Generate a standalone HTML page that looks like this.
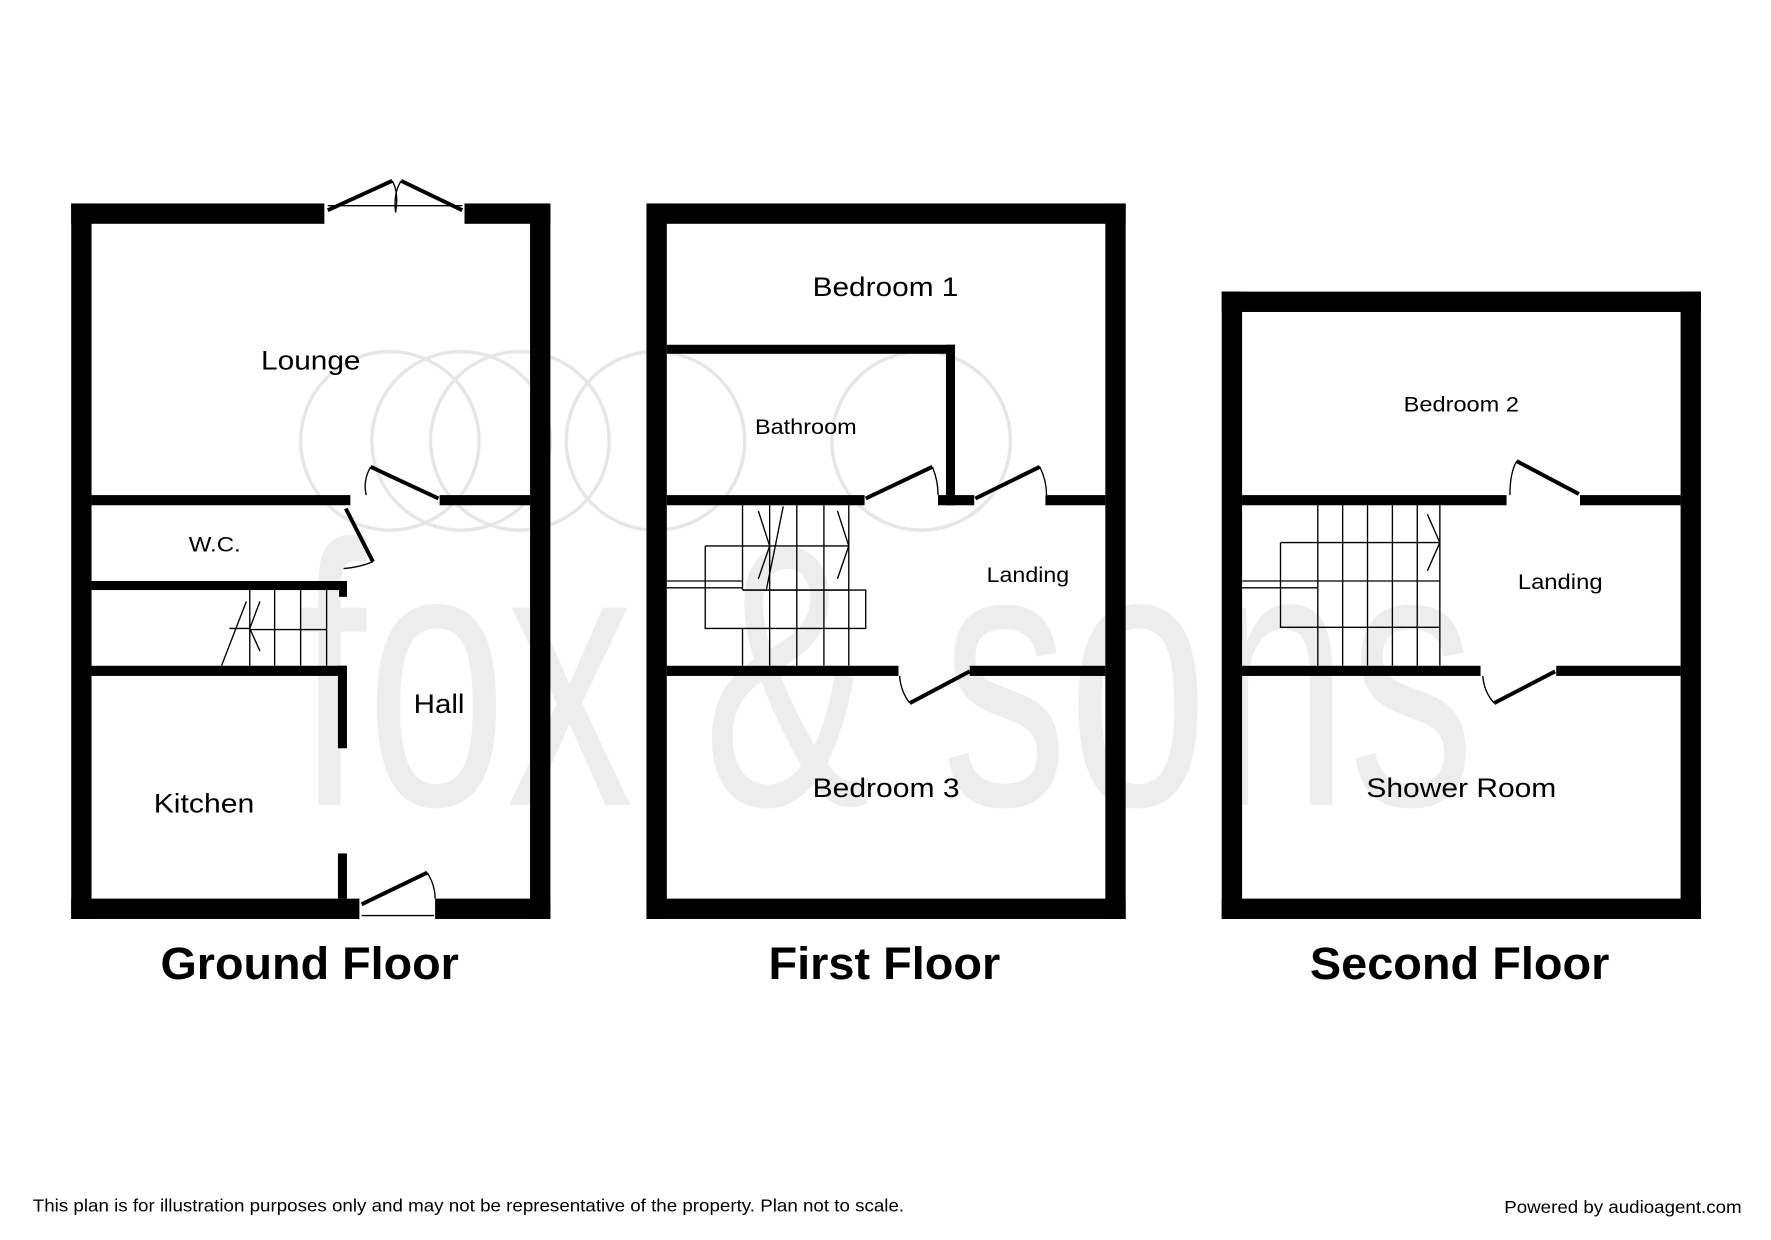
<!DOCTYPE html>
<html><head><meta charset="utf-8"><style>
html,body{margin:0;padding:0;background:#fff;}
svg{display:block;}
text{font-family:"Liberation Sans",Arial,sans-serif;}
</style></head><body>
<svg width="1771" height="1240" viewBox="0 0 1567 1097" preserveAspectRatio="none" xmlns="http://www.w3.org/2000/svg">
<rect width="1567" height="1097" fill="#fff"/>
<!-- watermark -->
<g fill="none" stroke="#e6e6e6" stroke-width="3">
<circle cx="345" cy="390" r="79"/><circle cx="408" cy="390" r="79"/><circle cx="460" cy="390" r="79"/>
<circle cx="580" cy="390" r="79"/><circle cx="815" cy="390" r="79"/>
</g>
<text x="262" y="712" font-size="330" fill="#ededed" textLength="1043" lengthAdjust="spacingAndGlyphs">fox &amp; sons</text>
<g fill="#000">
<!-- Ground floor -->
<rect x="63" y="180" width="224" height="18"/><rect x="411" y="180" width="76" height="18"/>
<rect x="63" y="180" width="18" height="633"/><rect x="469" y="180" width="18" height="633"/>
<rect x="63" y="795" width="255" height="18"/><rect x="385" y="795" width="102" height="18"/>
<rect x="81" y="438" width="229" height="9"/><rect x="389" y="438" width="80" height="9"/>
<rect x="81" y="514" width="226" height="8"/><rect x="300" y="514" width="7" height="14"/>
<rect x="81" y="589" width="226" height="9"/><rect x="299" y="589" width="8" height="73"/>
<rect x="299" y="755" width="8" height="40"/>
<!-- First floor -->
<rect x="572" y="180" width="424" height="18"/>
<rect x="572" y="180" width="18" height="633"/><rect x="978" y="180" width="18" height="633"/>
<rect x="572" y="795" width="424" height="18"/>
<rect x="590" y="305" width="255" height="8"/><rect x="837" y="305" width="8" height="142"/>
<rect x="590" y="438" width="175" height="9"/><rect x="830" y="438" width="32" height="9"/><rect x="925" y="438" width="53" height="9"/>
<rect x="590" y="589" width="205" height="9"/><rect x="858" y="589" width="120" height="9"/>
<!-- Second floor -->
<rect x="1081" y="258" width="424" height="18"/>
<rect x="1081" y="258" width="18" height="555"/><rect x="1487" y="258" width="18" height="555"/>
<rect x="1081" y="795" width="424" height="18"/>
<rect x="1099" y="438" width="234" height="9"/><rect x="1398" y="438" width="89" height="9"/>
<rect x="1099" y="589" width="211" height="9"/><rect x="1377" y="589" width="110" height="9"/>
</g>
<!-- doors -->
<g stroke="#000" stroke-width="3.5" fill="none">
<line x1="290" y1="186" x2="347" y2="160"/><line x1="409" y1="186" x2="355" y2="160"/>
<line x1="328" y1="413" x2="388" y2="441"/>
<line x1="306" y1="450" x2="330" y2="497"/>
<line x1="320" y1="800" x2="378" y2="772"/>
<line x1="766" y1="441" x2="825" y2="413"/><line x1="863" y1="441" x2="920" y2="413"/>
<line x1="805" y1="622" x2="858" y2="594"/>
<line x1="1342" y1="408" x2="1397" y2="437"/>
<line x1="1322" y1="622" x2="1376" y2="594"/>
</g>
<g stroke="#000" stroke-width="1.2" fill="none">
<line x1="290" y1="182" x2="409" y2="182"/><path d="M347 160 Q353 170 350 188"/><path d="M355 160 Q348 170 350 188"/>
<path d="M328 413 Q321 425 324 438"/><path d="M330 497 Q318 502 304 503"/>
<line x1="320" y1="810" x2="384" y2="810"/><path d="M378 772 Q385 783 385 795"/>
<path d="M825 413 Q830 425 830 438"/><path d="M920 413 Q926 425 926 438"/>
<path d="M805 622 Q797 612 796 598"/><path d="M1342 408 Q1336 418 1336 438"/><path d="M1322 622 Q1313 612 1312 598"/>
<!-- ground stairs -->
<line x1="221" y1="522" x2="221" y2="589"/><line x1="243" y1="522" x2="243" y2="589"/><line x1="266" y1="522" x2="266" y2="589"/><line x1="289" y1="522" x2="289" y2="589"/>
<line x1="221" y1="557" x2="289" y2="557"/><line x1="196" y1="589" x2="218" y2="532"/>
<path d="M230 532 L221 556 L230 576 M203 556 L221 556"/>
<!-- first stairs -->
<path d="M657 447 V522 M681 447 V522 M705 447 V522 M729 447 V522 M751 447 V522 M657 483 H751 M657 522 H751"/>
<path d="M624 483 H657 M624 483 V556 H766 V522 H657 M590 514 H657 M590 520 H657"/>
<path d="M681 522 V589 M705 522 V589 M729 522 V589 M751 522 V589 M657 556 V589"/>
<path d="M693 448 L685 488 L678 522 M671 452 L681 483 L671 512 M741 452 L751 483 L741 512"/>
<!-- second stairs -->
<path d="M1166 447 V589 M1188 447 V589 M1210 447 V589 M1232 447 V589 M1254 447 V589 M1274 447 V589"/>
<path d="M1133 480 H1274 M1133 480 V555 H1274 M1099 514 H1274 M1099 520 H1166"/>
<path d="M1263 455 L1274 480 L1263 505"/>
</g>
<!-- labels -->
<g fill="#000" lengthAdjust="spacingAndGlyphs">
<text x="231" y="327" font-size="24" textLength="88" lengthAdjust="spacingAndGlyphs">Lounge</text>
<text x="167" y="488" font-size="19" textLength="46" lengthAdjust="spacingAndGlyphs">W.C.</text>
<text x="366" y="631" font-size="24" textLength="45" lengthAdjust="spacingAndGlyphs">Hall</text>
<text x="136" y="719" font-size="24" textLength="89" lengthAdjust="spacingAndGlyphs">Kitchen</text>
<text x="719" y="262" font-size="24" textLength="129" lengthAdjust="spacingAndGlyphs">Bedroom 1</text>
<text x="668" y="384" font-size="19" textLength="90" lengthAdjust="spacingAndGlyphs">Bathroom</text>
<text x="873" y="515" font-size="19" textLength="73" lengthAdjust="spacingAndGlyphs">Landing</text>
<text x="719" y="705" font-size="24" textLength="130" lengthAdjust="spacingAndGlyphs">Bedroom 3</text>
<text x="1242" y="364" font-size="19" textLength="102" lengthAdjust="spacingAndGlyphs">Bedroom 2</text>
<text x="1343" y="521" font-size="19" textLength="75" lengthAdjust="spacingAndGlyphs">Landing</text>
<text x="1209" y="705" font-size="24" textLength="168" lengthAdjust="spacingAndGlyphs">Shower Room</text>
<text x="142" y="866" font-size="40" font-weight="bold" textLength="264" lengthAdjust="spacingAndGlyphs">Ground Floor</text>
<text x="680" y="866" font-size="40" font-weight="bold" textLength="205" lengthAdjust="spacingAndGlyphs">First Floor</text>
<text x="1159" y="866" font-size="40" font-weight="bold" textLength="265" lengthAdjust="spacingAndGlyphs">Second Floor</text>
</g>
<text x="29" y="1072" font-size="15.5" fill="#000" textLength="771" lengthAdjust="spacingAndGlyphs">This plan is for illustration purposes only and may not be representative of the property. Plan not to scale.</text>
<text x="1331" y="1073" font-size="15.5" fill="#000" textLength="210" lengthAdjust="spacingAndGlyphs">Powered by audioagent.com</text>
</svg>
</body></html>
